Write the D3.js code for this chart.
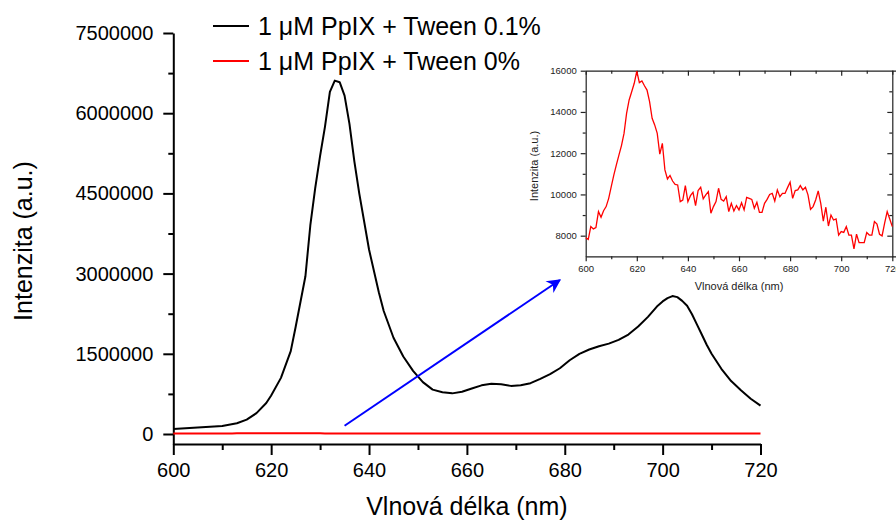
<!DOCTYPE html>
<html>
<head>
<meta charset="utf-8">
<script src="https://cdn.jsdelivr.net/npm/d3@7"></script>
<style>
  html, body { margin: 0; padding: 0; background: #fff; }
  svg { display: block; font-family: "Liberation Sans", Arial, sans-serif; }
</style>
</head>
<body>
<div id="chart"></div>
<script>
// Emisní spektra PpIX – hlavní graf + výřez (inset) pro Tween 0 %

const seriesNames = ["1 μM PpIX + Tween 0.1%", "1 μM PpIX + Tween 0%"]

// Tween 0.1 % (černá) – vlnová délka [nm], intenzita [a.u.]
const tweenWl = [600, 605, 610, 613, 615, 617, 619, 620, 622, 624, 625, 627, 628, 629, 630, 631, 632, 633, 634, 635,
  636, 637, 638, 640, 642, 643, 645, 647, 649, 651, 653, 655, 657, 659, 661, 663, 665, 667, 669, 671,
  673, 675, 677, 679, 681, 683, 685, 687, 689, 691, 693, 695, 697, 699, 700, 701, 702, 703, 704, 705,
  706, 707, 708, 709, 710, 712, 714, 716, 718, 720]
const tweenVal = [94000, 120000, 150000, 200000, 270000, 390000, 580000, 720000, 1050000, 1550000,
  2000000, 2950000, 3900000, 4600000, 5200000, 5750000, 6400000, 6610000, 6580000, 6330000,
  5800000, 5100000, 4500000, 3450000, 2650000, 2300000, 1800000, 1450000, 1180000, 970000,
  830000, 780000, 760000, 790000, 850000, 910000, 940000, 930000, 900000, 910000,
  950000, 1030000, 1120000, 1230000, 1380000, 1500000, 1580000, 1640000, 1690000, 1760000,
  1860000, 2010000, 2190000, 2400000, 2480000, 2540000, 2580000, 2560000, 2490000, 2400000,
  2240000, 2050000, 1860000, 1670000, 1500000, 1220000, 990000, 820000, 660000, 530000]

// Tween 0 % (červená) – krok 1 nm od 600 do 720
const noTweenWl = d3.range(600, 721)
const noTweenVal = [7900, 7820, 8440, 8330, 8390, 9170, 8890, 9210, 9410, 9810,
  10380, 10940, 11430, 11910, 12370, 12960, 13930, 14580, 14980, 15390,
  15980, 15420, 15500, 15270, 15060, 14500, 13690, 13370, 12960, 11950,
  12480, 11190, 10750, 10920, 10650, 10490, 10460, 9650, 9730, 10430,
  9650, 9940, 10100, 9460, 10190, 10350, 9790, 9980, 10140, 9090,
  9410, 9650, 10300, 9760, 9680, 9890, 9170, 9570, 9200, 9460,
  9250, 9600, 9250, 9860, 9810, 9760, 9330, 9620, 9130, 9130,
  9570, 9760, 10000, 10050, 9680, 10220, 9890, 10050, 10050, 10330,
  10590, 9810, 10190, 10220, 10430, 10220, 10350, 9980, 9280, 9410,
  9730, 10170, 9570, 8710, 9380, 8470, 9000, 8760, 8810, 8030,
  8200, 8160, 8440, 8030, 8030, 7360, 8070, 7660, 7660, 7660,
  8150, 8030, 8030, 8680, 8560, 8070, 7990, 8610, 9170, 8810, 8440]

const mainXTicks = [600, 620, 640, 660, 680, 700, 720]
const mainYTicks = [0, 1500000, 3000000, 4500000, 6000000, 7500000]
const insetXTicks = [600, 620, 640, 660, 680, 700, 720]
const insetYTicks = [8000, 10000, 12000, 14000, 16000]

// šipka (datové souřadnice hlavního grafu)
const arrowFrom = [635, 155000]
const arrowTo = [679, 2880000]

const W = 896, H = 523
const black = "#000", red = "#ff0000", blue = "#0000ff"
const fmt = d3.format("d")

const svg = d3.select("#chart").append("svg")
  .attr("width", W).attr("height", H)
  .attr("viewBox", `0 0 ${W} ${H}`)

// ---------- hlavní graf ----------
const x = d3.scaleLinear().domain([600, 720]).range([173.3, 760.5])
const y = d3.scaleLinear().domain([-187000, 7500000]).range([444, 33])

// minor ticks
svg.append("g")
  .attr("transform", `translate(0,${y.range()[0]})`)
  .call(d3.axisBottom(x).tickValues(d3.range(610, 720, 20)).tickSize(6).tickFormat(""))
  .call(s => s.select(".domain").remove())
  .call(s => s.selectAll("line").attr("stroke-width", 2))
svg.append("g")
  .attr("transform", `translate(${x.range()[0]},0)`)
  .call(d3.axisLeft(y).tickValues(d3.range(750000, 7500000, 1500000)).tickSize(5).tickFormat(""))
  .call(s => s.select(".domain").remove())
  .call(s => s.selectAll("line").attr("stroke-width", 2))

// major ticks + popisky
svg.append("g")
  .attr("transform", `translate(0,${y.range()[0]})`)
  .call(d3.axisBottom(x).tickValues(mainXTicks).tickFormat(fmt).tickSize(11).tickSizeOuter(0).tickPadding(8))
  .call(s => s.selectAll("line, path").attr("stroke", black).attr("stroke-width", 2))
  .call(s => s.selectAll("text").attr("font-size", 20).attr("fill", black)
    .attr("font-family", "'Liberation Sans', Arial, sans-serif"))

svg.append("g")
  .attr("transform", `translate(${x.range()[0]},0)`)
  .call(d3.axisLeft(y).tickValues(mainYTicks).tickFormat(fmt).tickSize(10).tickSizeOuter(0).tickPadding(10))
  .call(s => s.selectAll("line, path").attr("stroke", black).attr("stroke-width", 2))
  .call(s => s.selectAll("text").attr("font-size", 20).attr("fill", black)
    .attr("font-family", "'Liberation Sans', Arial, sans-serif"))

// titulky os
svg.append("text")
  .attr("x", (x.range()[0] + x.range()[1]) / 2).attr("y", 515)
  .attr("text-anchor", "middle").attr("font-size", 25).attr("fill", black)
  .text("Vlnová délka (nm)")

svg.append("text")
  .attr("transform", "rotate(-90)")
  .attr("x", -241).attr("y", 32)
  .attr("text-anchor", "middle").attr("font-size", 25).attr("fill", black)
  .text("Intenzita (a.u.)")

// křivky
const mainLine = d3.line().x(d => x(d[0])).y(d => y(d[1]))
svg.append("path")
  .datum(d3.zip(noTweenWl, noTweenVal))
  .attr("d", mainLine)
  .attr("fill", "none").attr("stroke", red).attr("stroke-width", 2)
svg.append("path")
  .datum(d3.zip(tweenWl, tweenVal))
  .attr("d", mainLine)
  .attr("fill", "none").attr("stroke", black).attr("stroke-width", 2)
  .attr("stroke-linejoin", "round")

// šipka
svg.append("defs").append("marker")
  .attr("id", "arrow")
  .attr("viewBox", "0 0 10 10").attr("refX", 9).attr("refY", 5)
  .attr("markerWidth", 20).attr("markerHeight", 14)
  .attr("markerUnits", "userSpaceOnUse")
  .attr("orient", "auto")
  .append("path")
  .attr("d", "M0,0 L10,5 L0,10 L3,5 Z")
  .attr("fill", blue)

svg.append("line")
  .attr("x1", x(arrowFrom[0])).attr("y1", y(arrowFrom[1]))
  .attr("x2", x(arrowTo[0])).attr("y2", y(arrowTo[1]))
  .attr("stroke", blue).attr("stroke-width", 2)
  .attr("marker-end", "url(#arrow)")

// legenda
const legend = svg.append("g")
seriesNames.forEach((name, i) => {
  const yy = 26 + i * 35
  legend.append("line")
    .attr("x1", 213).attr("x2", 249).attr("y1", yy).attr("y2", yy)
    .attr("stroke", i === 0 ? black : red).attr("stroke-width", 2)
  legend.append("text")
    .attr("x", 258).attr("y", yy + 9)
    .attr("font-size", 25).attr("fill", black)
    .text(name)
})

// ---------- inset ----------
const ix = d3.scaleLinear().domain([600, 720]).range([585.7, 892.3])
const iy = d3.scaleLinear().domain([7000, 16000]).range([256.3, 70.7])
const insetColor = "#222"
const inset = svg.append("g")

const styleInset = s => {
  s.selectAll("line, path").attr("stroke", insetColor).attr("stroke-width", 1.2)
  s.selectAll("text").attr("font-size", 9.5).attr("fill", insetColor)
    .attr("font-family", "'Liberation Sans', Arial, sans-serif")
}

// minor
inset.append("g").attr("transform", `translate(0,${iy.range()[0]})`)
  .call(d3.axisBottom(ix).tickValues(d3.range(610, 720, 20)).tickSize(3).tickFormat(""))
  .call(s => s.select(".domain").remove()).call(styleInset)
inset.append("g").attr("transform", `translate(${ix.range()[0]},0)`)
  .call(d3.axisLeft(iy).tickValues(d3.range(9000, 16000, 2000)).tickSize(3).tickFormat(""))
  .call(s => s.select(".domain").remove()).call(styleInset)
inset.append("g").attr("transform", `translate(0,${iy.range()[1]})`)
  .call(d3.axisBottom(ix).tickValues(d3.range(610, 720, 10)).tickSize(4).tickFormat(""))
  .call(s => s.selectAll("line").attr("y2", d => (d % 20 === 0 ? 5 : 3)))
  .call(styleInset)
inset.append("g").attr("transform", `translate(${ix.range()[1]},0)`)
  .call(d3.axisRight(iy).tickValues(d3.range(8000, 16000, 1000)).tickSize(4).tickFormat(""))
  .call(s => s.selectAll("line").attr("x2", d => (d % 2000 === 0 ? -5 : -3)))
  .call(styleInset)

// major
inset.append("g").attr("transform", `translate(0,${iy.range()[0]})`)
  .call(d3.axisBottom(ix).tickValues(insetXTicks).tickFormat(fmt).tickSize(5).tickSizeOuter(0).tickPadding(4))
  .call(styleInset)
inset.append("g").attr("transform", `translate(${ix.range()[0]},0)`)
  .call(d3.axisLeft(iy).tickValues(insetYTicks).tickFormat(fmt).tickSize(5).tickSizeOuter(0).tickPadding(4))
  .call(styleInset)

inset.append("text")
  .attr("x", (ix.range()[0] + ix.range()[1]) / 2).attr("y", 290)
  .attr("text-anchor", "middle").attr("font-size", 11).attr("fill", insetColor)
  .text("Vlnová délka (nm)")
inset.append("text")
  .attr("transform", "rotate(-90)")
  .attr("x", -166).attr("y", 538)
  .attr("text-anchor", "middle").attr("font-size", 11).attr("fill", insetColor)
  .text("Intenzita (a.u.)")

inset.append("path")
  .datum(d3.zip(noTweenWl, noTweenVal))
  .attr("d", d3.line().x(d => ix(d[0])).y(d => iy(d[1])))
  .attr("fill", "none").attr("stroke", red).attr("stroke-width", 1.3)
</script>
</body>
</html>
